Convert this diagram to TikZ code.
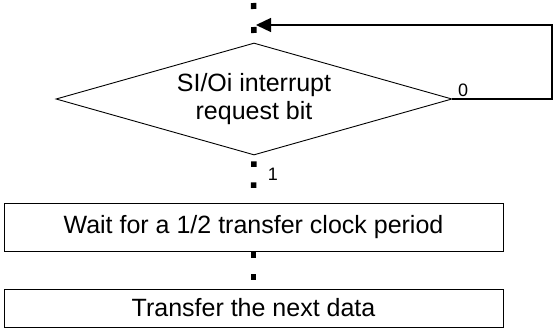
\documentclass[tikz,border=0pt]{standalone}
\usepackage{fontspec}
\setmainfont{Liberation Sans}
\usetikzlibrary{shapes.geometric,arrows.meta}
\begin{document}
\begin{tikzpicture}[x=1pt,y=-1pt,
  every node/.style={font=\fontsize{25}{28}\selectfont},
  decision/.style={draw,diamond,aspect=3.54,minimum width=396pt,minimum height=112pt,inner sep=0pt,align=center,line width=0.9pt},
  stepbox/.style={draw,rectangle,minimum width=499pt,inner sep=0pt,line width=0.9pt},
  label/.style={font=\fontsize{18}{20}\selectfont,inner sep=0pt},
  dotconn/.style={line width=5.5pt,line cap=butt},
  flow/.style={line width=1.3pt}
]
\useasboundingbox (0,0) rectangle (556,329);
\coordinate (top) at (253.5,0);
\node[decision] (dia) at (254,99) {SI/Oi interrupt\\request bit};
\node[stepbox,minimum height=48pt] (b1) at (253.5,227) {Wait for a 1/2 transfer clock period};
\node[stepbox,minimum height=38pt] (b2) at (253.5,308) {Transfer the next data};
\coordinate (r1) at (552,99);
\coordinate (tip) at (256,25);
\draw[dotconn,dash pattern=on 6pt off 18pt,dash phase=21pt] (top) -- (dia.north);
\draw[dotconn,dash pattern=on 5.5pt off 15.5pt,dash phase=15pt] (dia.south) -- (b1.north);
\draw[dotconn,dash pattern=on 6pt off 16pt,dash phase=21pt] (b1.south) -- (b2.north);
\draw[flow,-{Triangle[length=15pt,width=14pt]}] (dia.east) -- (r1) |- (tip);
\node[label] (l0) at (463,90) {0};
\node[label] (l1) at (273,174) {1};
\end{tikzpicture}
\end{document}
